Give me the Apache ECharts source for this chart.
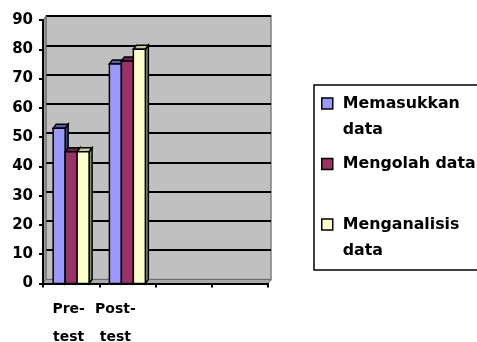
<!DOCTYPE html>
<html>
<head>
<meta charset="utf-8">
<script src="https://cdn.jsdelivr.net/npm/echarts@6/dist/echarts.min.js"></script>
<style>
  html, body { margin: 0; padding: 0; background: #fff; }
  #chart { width: 477px; height: 342px; }
</style>
</head>
<body>
<div id="chart"></div>
<script>
// ---- data ----
const categories = ['Pre-test', 'Post-test', '', ''];
const seriesNames = ['Memasukkan data', 'Mengolah data', 'Menganalisis data'];
const memasukkanData = [53, 75];
const mengolahData = [45, 76];
const menganalisisData = [45, 80];
const yTicks = [0, 10, 20, 30, 40, 50, 60, 70, 80, 90];

// ---- layout / style ----
const W = 477, H = 342;
const FRONT = { left: 43, right: 268, top: 20, bottom: 283.5 };
const DEPTH = { dx: 3, dy: -4 };
const BACK = {
  left: FRONT.left + DEPTH.dx, right: FRONT.right + DEPTH.dx,
  top: FRONT.top + DEPTH.dy, bottom: FRONT.bottom + DEPTH.dy
};
const BAR_FRAC = 0.213;
const FONT = "'DejaVu Sans', sans-serif";
const palette = [
  { front: '#9999FF', top: '#5C5CA8', side: '#3D3D80' },
  { front: '#993366', top: '#6E2249', side: '#4C1833' },
  { front: '#FFFFCC', top: '#C9C99A', side: '#8C8C70' }
];
const seriesValues = [memasukkanData, mengolahData, menganalisisData];

function renderBar(idx) {
  return function (params, api) {
    const cat = api.value(0);
    const val = api.value(1);
    const top = api.coord([cat, val]);
    const base = api.coord([cat, 0]);
    const catW = api.size([1, 0])[0];
    const bw = catW * BAR_FRAC;
    const x0 = top[0] - 1.5 * bw + idx * bw;
    const x1 = x0 + bw;
    const yT = top[1], yB = base[1];
    const dx = DEPTH.dx, dy = DEPTH.dy;
    const c = palette[idx];
    const stroke = { stroke: '#000', lineWidth: 1.5, lineJoin: 'miter' };
    return {
      type: 'group',
      children: [
        {
          type: 'polygon',
          shape: { points: [[x1, yT], [x1 + dx, yT + dy], [x1 + dx, yB + dy], [x1, yB]] },
          style: Object.assign({ fill: c.side }, stroke)
        },
        {
          type: 'polygon',
          shape: { points: [[x0, yT], [x0 + dx, yT + dy], [x1 + dx, yT + dy], [x1, yT]] },
          style: Object.assign({ fill: c.top }, stroke)
        },
        {
          type: 'rect',
          shape: { x: x0, y: yT, width: bw, height: yB - yT },
          style: Object.assign({ fill: c.front }, stroke)
        }
      ]
    };
  };
}

// Legend text: a blank leading row keeps the swatch level with the first text row
const legendLabels = {
  'Memasukkan data': '{p| }\n{t|Memasukkan}\n{t|data}',
  'Mengolah data': '{t|Mengolah data}',
  'Menganalisis data': '{p| }\n{t|Menganalisis}\n{t|data}'
};

const chart = echarts.init(document.getElementById('chart'), null, { renderer: 'canvas' });

const option = {
  backgroundColor: '#fff',
  animation: false,
  grid: [
    { // front plane: axes
      left: FRONT.left, top: FRONT.top,
      right: W - FRONT.right, bottom: H - FRONT.bottom,
      outerBoundsMode: 'none', containLabel: false,
      show: false
    },
    { // back wall
      left: BACK.left, top: BACK.top,
      right: W - BACK.right, bottom: H - BACK.bottom,
      outerBoundsMode: 'none', containLabel: false,
      show: true, backgroundColor: '#C0C0C0',
      borderColor: '#808080', borderWidth: 1.5, z: 0
    }
  ],
  xAxis: [
    {
      type: 'category', gridIndex: 0, data: categories, z: 5,
      axisLine: { show: true, lineStyle: { color: '#000', width: 2 } },
      axisTick: { show: true, length: 4, lineStyle: { color: '#000', width: 2 } },
      axisLabel: {
        margin: 12, interval: 0,
        fontFamily: FONT, fontWeight: 'bold', fontSize: 14, color: '#000',
        formatter: function (v, i) {
          if (!v) return '';
          const parts = v.split('-');
          const tag = i === 0 ? 'a' : 'b';
          return '{' + tag + '|' + parts[0] + '-}\n{' + tag + '|' + parts[1] + '}';
        },
        rich: {
          a: { fontFamily: FONT, fontWeight: 'bold', fontSize: 14, lineHeight: 28, color: '#000', padding: [0, 5, 0, 0] },
          b: { fontFamily: FONT, fontWeight: 'bold', fontSize: 14, lineHeight: 28, color: '#000', padding: [0, 24, 0, 0] }
        }
      },
      splitLine: { show: false }
    },
    {
      type: 'category', gridIndex: 1, data: categories, show: false
    }
  ],
  yAxis: [
    {
      type: 'value', gridIndex: 0, min: yTicks[0], max: yTicks[yTicks.length - 1], interval: 10, z: 5,
      axisLine: { show: true, lineStyle: { color: '#000', width: 2 } },
      axisTick: { show: true, length: 4, lineStyle: { color: '#000', width: 2 } },
      axisLabel: {
        margin: 10, fontFamily: FONT, fontWeight: 'bold', fontSize: 15, color: '#000'
      },
      splitLine: { show: false }
    },
    {
      type: 'value', gridIndex: 1, min: yTicks[0], max: yTicks[yTicks.length - 1], interval: 10,
      axisLine: { show: false }, axisTick: { show: false }, axisLabel: { show: false },
      splitLine: { show: true, lineStyle: { color: '#000', width: 2 } }
    }
  ],
  legend: {
    orient: 'vertical',
    left: 314, top: 85,
    padding: [-20.5, 24, 6.5, 7],
    itemWidth: 11, itemHeight: 11, itemGap: 8.5,
    borderColor: '#000', borderWidth: 1.5,
    icon: 'rect',
    itemStyle: { borderColor: '#000', borderWidth: 1.5 },
    textStyle: {
      fontFamily: FONT, fontWeight: 'bold', fontSize: 15.8,
      lineHeight: 26, color: '#000',
      rich: {
        p: { fontFamily: FONT, fontSize: 15.8, lineHeight: 26 },
        t: { fontFamily: FONT, fontWeight: 'bold', fontSize: 15.8, lineHeight: 26, color: '#000', padding: [0, 0, 0, 5] }
      }
    },
    formatter: function (name) { return legendLabels[name] || name; },
    data: seriesNames
  },
  graphic: [
    { // left side wall
      type: 'polygon', z: 1, silent: true,
      shape: { points: [[FRONT.left, FRONT.bottom], [FRONT.left, FRONT.top], [BACK.left, BACK.top], [BACK.left, BACK.bottom]] },
      style: { fill: '#9A9A9A', stroke: '#6E6E6E', lineWidth: 1 }
    },
    { // floor
      type: 'polygon', z: 1, silent: true,
      shape: { points: [[FRONT.left, FRONT.bottom], [FRONT.right, FRONT.bottom], [BACK.right, BACK.bottom], [BACK.left, BACK.bottom]] },
      style: { fill: '#A8A8A8', stroke: '#6E6E6E', lineWidth: 1 }
    }
  ],
  series: seriesNames.map(function (name, idx) {
    return {
      name: name,
      type: 'custom',
      xAxisIndex: 0, yAxisIndex: 0,
      z: 3,
      itemStyle: { color: palette[idx].front, borderColor: '#000', borderWidth: 1.5 },
      renderItem: renderBar(idx),
      data: seriesValues[idx].map(function (v, i) { return [i, v]; })
    };
  })
};

chart.setOption(option);
</script>
</body>
</html>
